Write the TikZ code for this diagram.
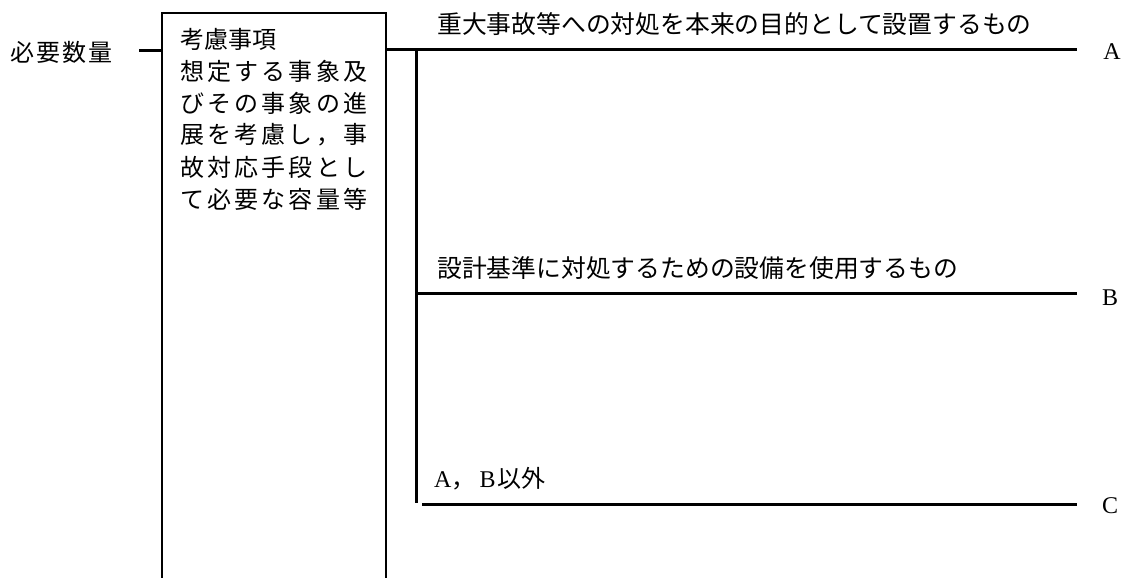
\documentclass[tikz,border=0pt]{standalone}
\usepackage{fontspec}
\setmainfont{Noto Sans CJK JP}
\newfontfamily\latserif{Liberation Serif}
\begin{document}
\begin{tikzpicture}[x=1pt,y=-1pt,
  thickline/.style={line width=3pt},
  thinline/.style={line width=1.5pt},
  txt/.style={anchor=west,inner sep=0pt,font=\fontsize{24}{28}\selectfont},
  rtxt/.style={anchor=west,inner sep=0pt,font=\fontsize{24.8}{28}\selectfont},
  letter/.style={anchor=center,inner sep=0pt,font=\fontsize{24}{28}\selectfont\latserif}]
\useasboundingbox (0,0) rectangle (1127,578);
% box (open at the bottom)
\coordinate (boxBL) at (162,578);
\coordinate (boxTL) at (162,13);
\coordinate (boxTR) at (386,13);
\coordinate (boxBR) at (386,578);
\draw[thinline] (boxBL) -- (boxTL) -- (boxTR) -- (boxBR);
% left label
\node[txt] (need) at (10,52) {\makebox[102pt][s]{必\hfill 要\hfill 数\hfill 量}};
\coordinate (needR) at (139,51);
\coordinate (boxL) at (162,51);
\draw[thickline] (needR) -- (boxL);
% box text
\node[txt] (k1) at (180,39) {考慮事項};
\node[txt] (k2) at (180,71) {\makebox[187pt][s]{想\hfill 定\hfill す\hfill る\hfill 事\hfill 象\hfill 及}};
\node[txt] (k3) at (180,103) {\makebox[187pt][s]{び\hfill そ\hfill の\hfill 事\hfill 象\hfill の\hfill 進}};
\node[txt] (k4) at (180,135) {\makebox[187pt][s]{展\hfill を\hfill 考\hfill 慮\hfill し\hfill ，\hfill 事}};
\node[txt] (k5) at (180,167) {\makebox[187pt][s]{故\hfill 対\hfill 応\hfill 手\hfill 段\hfill と\hfill し}};
\node[txt] (k6) at (180,199) {\makebox[187pt][s]{て\hfill 必\hfill 要\hfill な\hfill 容\hfill 量\hfill 等}};
% branches
\coordinate (boxR) at (386,50);
\coordinate (Aend) at (1077,50);
\coordinate (trunkTop) at (416.5,50);
\coordinate (trunkBot) at (416.5,503);
\coordinate (Bstart) at (416.5,293);
\coordinate (Bend) at (1077,293);
\coordinate (Cstart) at (422,504);
\coordinate (Cend) at (1077,504);
\draw[thickline] (boxR) -- (Aend);
\draw[thickline] (trunkTop) -- (trunkBot);
\draw[thickline] (Bstart) -- (Bend);
\draw[thickline] (Cstart) -- (Cend);
\node[rtxt] (ta) at (437,24) {重大事故等への対処を本来の目的として設置するもの};
\node[rtxt] (tb) at (437,268) {設計基準に対処するための設備を使用するもの};
\node[txt] (tc) at (434,479) {{\latserif A}，\hspace{4pt}{\latserif B}\hspace{2pt}以外};
\node[letter] (A) at (1112,52) {A};
\node[letter] (B) at (1110,298) {B};
\node[letter] (C) at (1110,506) {C};
\end{tikzpicture}
\end{document}
